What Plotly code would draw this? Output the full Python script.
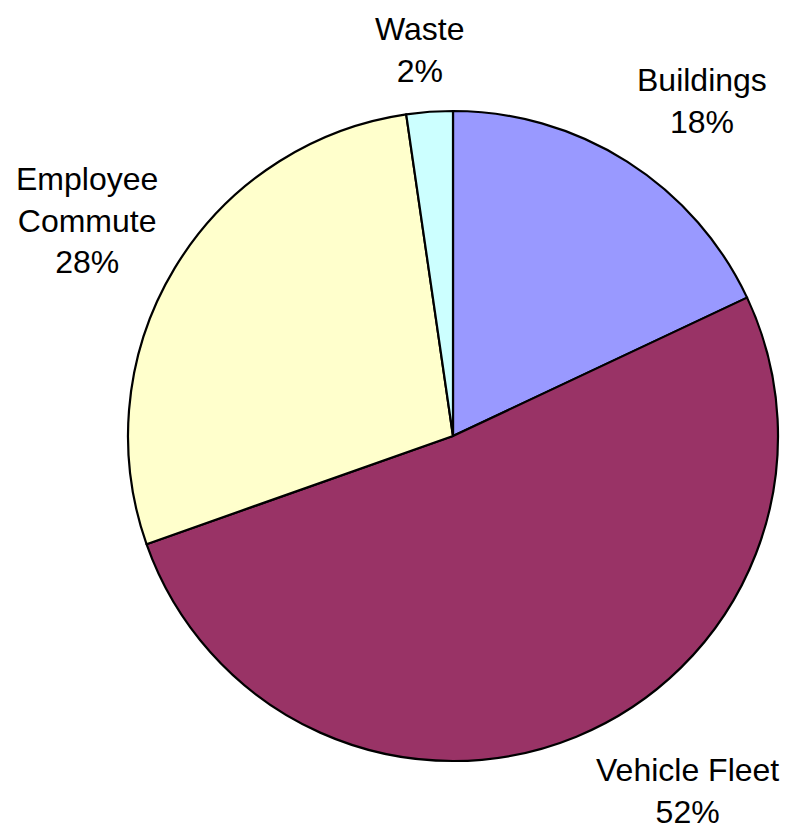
import plotly.graph_objects as go

categories = ["Buildings", "Vehicle Fleet", "Employee Commute", "Waste"]
values = [18.0, 51.6, 28.1, 2.3]
label_lines = ["Buildings", "Vehicle Fleet", "Employee<br>Commute", "Waste"]
colors = ["#9999FF", "#993366", "#FFFFCC", "#CCFFFF"]

# label anchor positions (paper coords)
label_pos = [(0.883, 1.015), (0.861, -0.046), (-0.063, 0.831), (0.449, 1.094)]

total = sum(values)

fig = go.Figure(go.Pie(
    labels=categories,
    values=values,
    sort=False,
    direction="clockwise",
    rotation=0,
    marker=dict(colors=colors, line=dict(color="black", width=2.2)),
    textinfo="none",
    hoverinfo="label+percent",
    showlegend=False,
))

for name, v, (x, y) in zip(label_lines, values, label_pos):
    fig.add_annotation(
        x=x, y=y, xref="paper", yref="paper",
        text=f"{name}<br>{v / total * 100:.0f}%",
        showarrow=False,
        xanchor="center", yanchor="middle",
        font=dict(family="Liberation Sans, Arial, sans-serif", size=32, color="black"),
        align="center",
    )

fig.update_layout(
    width=791, height=831,
    margin=dict(l=128, r=13, t=111, b=70),
    paper_bgcolor="white",
    plot_bgcolor="white",
)

fig.write_html(
    "out.html",
    config={"displayModeBar": False},
    post_script="document.body.style.margin='0';document.body.style.overflow='hidden';",
)
